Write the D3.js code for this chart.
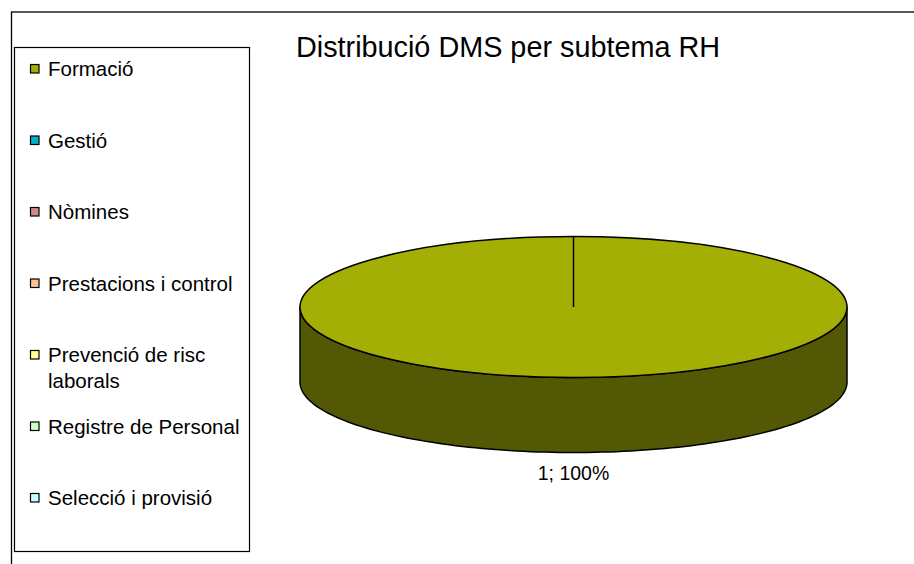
<!DOCTYPE html>
<html>
<head>
<meta charset="utf-8">
<script src="https://cdn.jsdelivr.net/npm/d3@7/dist/d3.min.js"></script>
<style>
  html, body { margin: 0; padding: 0; background: #fff; }
  svg { display: block; font-family: "Liberation Sans", Arial, Helvetica, sans-serif; }
</style>
</head>
<body>
<svg id="chart" width="914" height="564"></svg>
<script>
const title = "Distribució DMS per subtema RH";
const categories = ["Formació", "Gestió", "Nòmines", "Prestacions i control",
  "Prevenció de risc laborals", "Registre de Personal", "Selecció i provisió"];
const legendLines = [["Formació"], ["Gestió"], ["Nòmines"], ["Prestacions i control"],
  ["Prevenció de risc", "laborals"], ["Registre de Personal"], ["Selecció i provisió"]];
const values = [1, 0, 0, 0, 0, 0, 0];
const colors = ["#a4af06", "#00b0c4", "#cf8a8a", "#fcc08e", "#ffff99", "#ccffcc", "#ccffff"];
const sideColors = ["#525804", "#005862", "#674545", "#7e6047", "#80804c", "#668066", "#668080"];

(function () {
const svg = d3.select("#chart");

// outer chart frame (extends past the right and bottom edges)
svg.append("rect").attr("x", 11.5).attr("y", 12).attr("width", 1000).attr("height", 1000)
  .attr("fill", "none").attr("stroke", "#000").attr("stroke-width", 1.3);

// title
svg.append("text").attr("x", 508).attr("y", 57).attr("text-anchor", "middle")
  .attr("font-size", 28.8).attr("fill", "#000").text(title);

// legend
svg.append("rect").attr("x", 14.5).attr("y", 47.5).attr("width", 235).attr("height", 504)
  .attr("fill", "#fff").attr("stroke", "#000").attr("stroke-width", 1.2);
const ly = d3.scalePoint().domain(categories).range([69, 498]);
const leg = svg.append("g");
categories.forEach((c, i) => {
  const y = ly(c);
  leg.append("rect").attr("x", 30.5).attr("y", y - 4.5).attr("width", 8.5).attr("height", 8.5)
    .attr("fill", colors[i]).attr("stroke", "#000").attr("stroke-width", 1.2);
  const t = leg.append("text").attr("x", 48).attr("y", y + 7).attr("font-size", 20.5).attr("fill", "#000");
  legendLines[i].forEach((ln, j) => {
    t.append("tspan").attr("x", 48).attr("dy", j === 0 ? 0 : 26).text(ln);
  });
});

// 3D pie
const cx = 573.5, cy = 307, rx = 273.5, ry = 70.5, depth = 75;
const slices = d3.pie().sort(null).value(d => d)(values);
const arc = d3.arc().innerRadius(0).outerRadius(rx);
const k = ry / rx;
const g = svg.append("g").attr("transform", `translate(${cx},${cy})`);
const shown = slices.filter(d => d.value > 0);

// side wall (front half)
shown.forEach(d => {
  const p = d3.path();
  const n = 120;
  p.moveTo(-rx, 0);
  p.lineTo(-rx, depth);
  for (let s = 0; s <= n; s++) {
    const a = Math.PI - Math.PI * s / n;
    p.lineTo(rx * Math.cos(a), depth + ry * Math.sin(a));
  }
  p.lineTo(rx, 0);
  for (let s = 0; s <= n; s++) {
    const a = Math.PI * s / n;
    p.lineTo(rx * Math.cos(a), ry * Math.sin(a));
  }
  p.closePath();
  g.append("path").attr("d", p.toString()).attr("fill", sideColors[d.index])
    .attr("stroke", "#000").attr("stroke-width", 1.5).attr("stroke-linejoin", "round");
});

// top face
const face = g.append("g").attr("transform", `scale(1,${k})`);
face.selectAll("path.slice").data(shown).join("path")
  .attr("class", "slice").attr("d", arc).attr("fill", d => colors[d.index])
  .attr("stroke", "#000").attr("stroke-width", 1.5).attr("vector-effect", "non-scaling-stroke");
// slice boundary radial lines
shown.forEach(d => {
  g.append("line").attr("x1", 0).attr("y1", 0)
    .attr("x2", rx * Math.sin(d.startAngle)).attr("y2", -ry * Math.cos(d.startAngle))
    .attr("stroke", "#000").attr("stroke-width", 1.5);
});

// data labels
const total = d3.sum(values);
shown.forEach(d => {
  const a = (d.startAngle + d.endAngle) / 2;
  const lx = rx * Math.sin(a);
  const lyv = -ry * Math.cos(a) + (Math.cos(a) < 0 ? depth : 0) + 27;
  g.append("text").attr("x", lx).attr("y", lyv).attr("text-anchor", "middle")
    .attr("font-size", 19.5).attr("fill", "#000")
    .text(`${d.value}; ${Math.round(d.value / total * 100)}%`);
});
})();
</script>
</body>
</html>
